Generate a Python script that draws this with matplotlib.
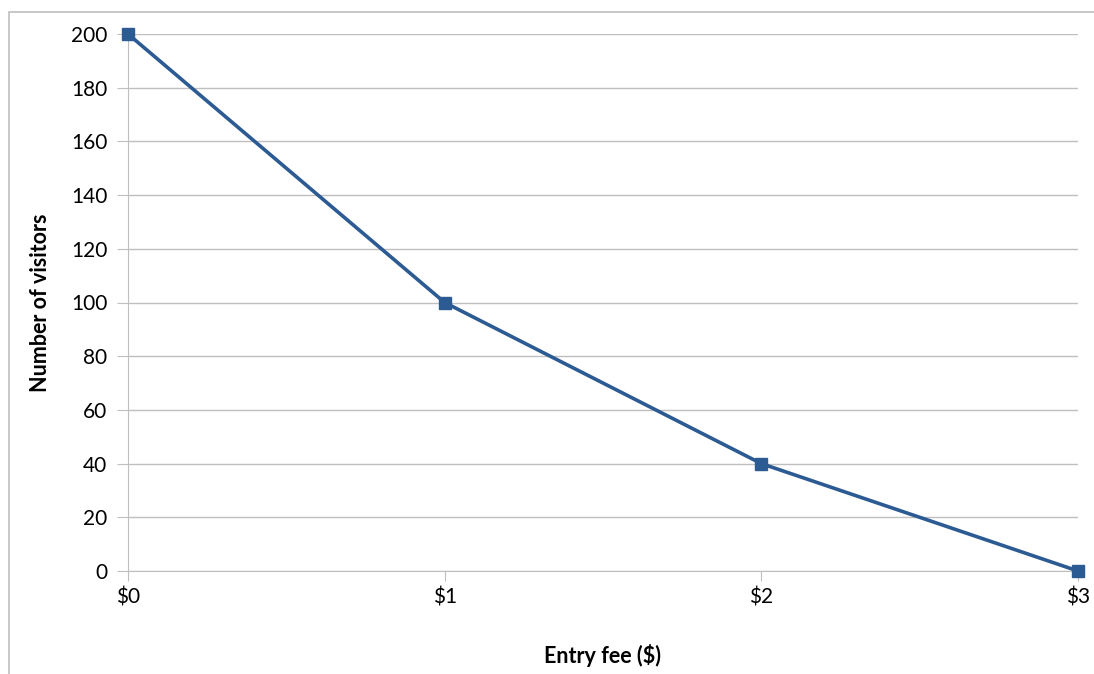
import matplotlib
matplotlib.use('Agg')
import matplotlib.pyplot as plt
import matplotlib.patches as patches

fees = [0, 1, 2, 3]
fee_labels = ['$0', '$1', '$2', '$3']
visitors = [200, 100, 40, 0]
y_ticks = list(range(0, 201, 20))

plt.rcParams['font.family'] = ['Lato', 'DejaVu Sans']

fig = plt.figure(figsize=(10.94, 6.74), dpi=100)
# outer chart border (runs off the right and bottom edge)
fig.patches.append(patches.Rectangle((9/1094, -0.1), 1.2, 1 - 12/674 + 0.1,
                                     transform=fig.transFigure, fill=False,
                                     edgecolor='#BFBFBF', linewidth=1.2))

ax = fig.add_axes([128/1094, 1 - 571/674, 950/1094, (571 - 34)/674])
ax.plot(fees, visitors, color='#2C5A93', linewidth=2.6, marker='s',
        markersize=8, clip_on=False, zorder=3)
ax.set_xlim(0, 3)
ax.set_ylim(0, 200)
ax.set_yticks(y_ticks)
ax.set_xticks(fees)
ax.set_xticklabels(fee_labels)
ax.grid(axis='y', color='#BFBFBF', linewidth=1)
ax.set_axisbelow(True)
for s in ['top', 'right']:
    ax.spines[s].set_visible(False)
ax.spines['left'].set_color('#BFBFBF')
ax.spines['bottom'].set_color('#BFBFBF')
ax.tick_params(axis='y', length=8, color='#BFBFBF', labelsize=15, pad=7)
ax.tick_params(axis='x', length=7, color='#BFBFBF', labelsize=15, pad=5)
ax.set_xlabel('Entry fee ($)', fontsize=15.5, fontweight='bold', labelpad=26)
ax.set_ylabel('Number of visitors', fontsize=15.5, fontweight='bold', labelpad=14)

plt.savefig('out.png', dpi=100)
